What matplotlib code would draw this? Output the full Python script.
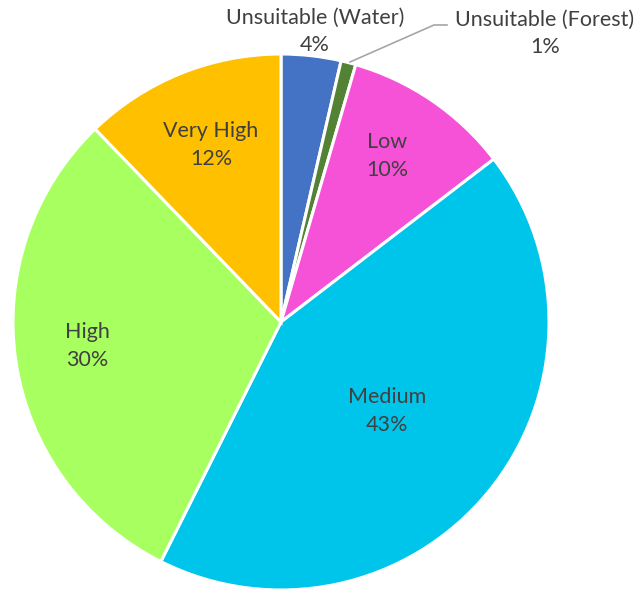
import matplotlib.pyplot as plt

plt.rcParams['font.family'] = ['Lato', 'DejaVu Sans']

# 适宜性分区面积占比
labels = ['Unsuitable (Water)', 'Unsuitable (Forest)', 'Low', 'Medium', 'High', 'Very High']
shares = [3.6, 0.9, 10.1, 42.8, 30.4, 12.2]
colors = ['#4472C4', '#548235', '#F652D8', '#00C5EB', '#A8FF60', '#FFC000']

W, H = 639, 592
fig = plt.figure(figsize=(W / 100, H / 100), dpi=100)
ax = fig.add_axes([0, 0, 1, 1])

cx, cy, r = 281, H - 322, 268
wedges, _ = ax.pie(shares, colors=colors, startangle=90, counterclock=False,
                   center=(cx, cy), radius=r, frame=True,
                   wedgeprops=dict(edgecolor='white', linewidth=2.2))
ax.set_xlim(0, W)
ax.set_ylim(0, H)
ax.set_aspect('equal')
ax.axis('off')

# 标签位置 (像素坐标, y 从顶部量)
label_pos = [(315, 31), (545, 33), (387, 156), (387, 411), (87, 346), (211, 145)]
for name, v, (x, y) in zip(labels, shares, label_pos):
    ax.text(x, H - y, '%s\n%.0f%%' % (name, v), ha='center', va='center',
            fontsize=15.5, color='#404040', linespacing=1.45)

# 森林区引线
ax.plot([350, 434, 447], [H - 62, H - 25, H - 25], color='#A6A6A6', lw=1.2)

fig.savefig('out.png', dpi=100)
